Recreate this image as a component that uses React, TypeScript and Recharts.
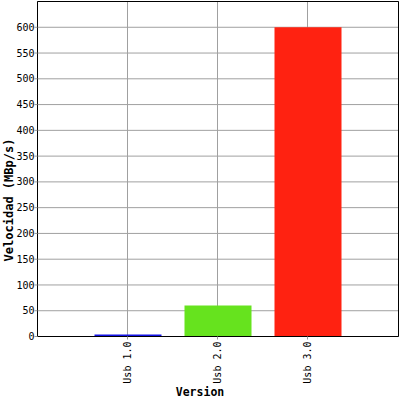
import { BarChart, Bar, XAxis, YAxis, CartesianGrid, Cell, Label, ReferenceLine } from "recharts";

const versions = ["Usb 1.0", "Usb 2.0", "Usb 3.0"];
const speeds = [1.5, 60, 600];
const barColors = ["#1414e6", "#66e31e", "#ff2211"];
const yTicks = [0, 50, 100, 150, 200, 250, 300, 350, 400, 450, 500, 550, 600];

const data = versions.map((v, i) => ({ version: v, speed: speeds[i] }));

const mono = "'DejaVu Sans Mono', monospace";

function VersionTick(props: any) {
  const { x, y, payload } = props;
  return (
    <text
      x={x}
      y={y}
      transform={`rotate(-90, ${x}, ${y})`}
      textAnchor="end"
      dy="0.35em"
      fontFamily={mono}
      fontSize={10}
      fill="#000"
    >
      {payload.value}
    </text>
  );
}

export default function App() {
  return (
    <div style={{ position: "absolute", left: 0, top: 0, width: 400, height: 400, background: "#fff" }}>
      <BarChart width={400} height={400} data={data} margin={{ top: 1.5, right: 0, left: 0, bottom: 0 }}>
        <CartesianGrid stroke="#a0a0a0" strokeWidth={1} />
        <XAxis
          dataKey="version"
          height={63.5}
          padding={{ left: 45, right: 46 }}
          axisLine={{ stroke: "#000", strokeWidth: 1 }}
          tickLine={{ stroke: "#999" }}
          tickSize={3}
          tick={<VersionTick />}
          interval={0}
        >
          <Label
            content={() => (
              <text x={200} y={396} textAnchor="middle" fontFamily={mono} fontWeight="bold" fontSize={11.5} fill="#000">
                Version
              </text>
            )}
          />
        </XAxis>
        <YAxis
          width={37.5}
          domain={[0, 650]}
          ticks={yTicks}
          interval={0}
          axisLine={{ stroke: "#000", strokeWidth: 1 }}
          tickLine={{ stroke: "#999" }}
          tickSize={3}
          tickMargin={0}
          tick={{ fontFamily: mono, fontSize: 10, fill: "#000" }}
        >
          <Label
            content={() => (
              <text
                x={9}
                y={200}
                transform="rotate(-90, 9, 200)"
                textAnchor="middle"
                dy="0.35em"
                fontFamily={mono}
                fontWeight="bold"
                fontSize={12}
                fill="#000"
              >
                Velocidad (MBp/s)
              </text>
            )}
          />
        </YAxis>
        <YAxis yAxisId="right" orientation="right" width={1.5} tick={false} tickLine={false} axisLine={{ stroke: "#000", strokeWidth: 1 }} />
        <ReferenceLine y={650} stroke="#000" strokeWidth={1} ifOverflow="extendDomain" />
        <Bar dataKey="speed" barSize={67} minPointSize={2} isAnimationActive={false}>
          {data.map((d, i) => (
            <Cell key={d.version} fill={barColors[i]} />
          ))}
        </Bar>
      </BarChart>
    </div>
  );
}
